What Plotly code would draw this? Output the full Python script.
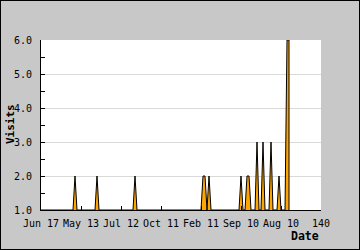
import plotly.graph_objects as go

# ---- data ----
tick_labels = ["Jun 17", "May 13", "Jul 12", "Oct 11", "Feb 11", "Sep 10", "Aug 10", "140"]
spike_days = [17, 28, 47, 81, 82, 84, 100, 103, 104, 108, 111, 115, 119, 123, 124]
spike_visits = [2, 2, 2, 2, 2, 2, 2, 2, 2, 3, 3, 3, 2, 6, 6]
baseline_visits = 1
first_day = 0
last_day = 124

lookup = dict(zip(spike_days, spike_visits))
days = list(range(first_day, last_day + 1))
visits = [lookup.get(d, baseline_visits) for d in days]
# close the filled shape at the last day
x_line = days + [days[-1]]
y_line = visits + [baseline_visits]

FONT = "DejaVu Sans Mono"
W, H = 360, 250
L, R, T, B = 41, 39, 40, 40
pw, ph = W - L - R, H - T - B

fig = go.Figure()
fig.add_trace(go.Scatter(
    x=x_line, y=y_line, mode="lines",
    line=dict(color="black", width=1),
    fill="tozeroy", fillcolor="#FFA500",
    hoverinfo="skip", showlegend=False,
))

def px_x(p):
    return (p - L) / pw

def px_y(p):
    return (H - B - p) / ph

fig.update_layout(
    width=W, height=H,
    margin=dict(l=L, r=R, t=T, b=B, pad=0),
    paper_bgcolor="#c8c8c8", plot_bgcolor="white",
    font=dict(family=FONT, size=10, color="black"),
    xaxis=dict(
        range=[0, 140], tickvals=list(range(0, 141, 20)), ticktext=tick_labels,
        ticks="inside", ticklen=4, tickcolor="black", tickwidth=1,
        showline=True, linecolor="black", linewidth=1,
        showgrid=False, zeroline=False, ticklabelstandoff=4,
        tickfont=dict(family=FONT, size=10, color="black"),
    ),
    yaxis=dict(
        range=[1, 6], dtick=1, tick0=1, tickformat=".1f",
        ticks="inside", ticklen=4, tickcolor="black", tickwidth=1,
        minor=dict(dtick=0.5, ticks="inside", ticklen=4, tickcolor="black", showgrid=False),
        showline=True, linecolor="black", linewidth=1,
        showgrid=True, gridcolor="#d9d9d9", gridwidth=1, zeroline=False,
        ticklabelstandoff=6,
        tickfont=dict(family=FONT, size=10, color="black"),
    ),
    annotations=[
        dict(text="<b>Date</b>", xref="paper", yref="paper",
             x=px_x(321), y=px_y(236), xanchor="right", yanchor="middle",
             showarrow=False, font=dict(family=FONT, size=11.5, color="black")),
        dict(text="<b>Visits</b>", xref="paper", yref="paper",
             x=px_x(10), y=px_y(124), xanchor="center", yanchor="middle",
             textangle=-90, showarrow=False,
             font=dict(family=FONT, size=11, color="black")),
    ],
)

border_js = (
    "var o=document.createElement('div');"
    "o.style.cssText='position:fixed;left:0;top:0;width:360px;height:250px;"
    "border:1px solid black;box-sizing:border-box;pointer-events:none;z-index:1000';"
    "document.body.appendChild(o);"
)

fig.write_html("out.html", post_script=border_js)
